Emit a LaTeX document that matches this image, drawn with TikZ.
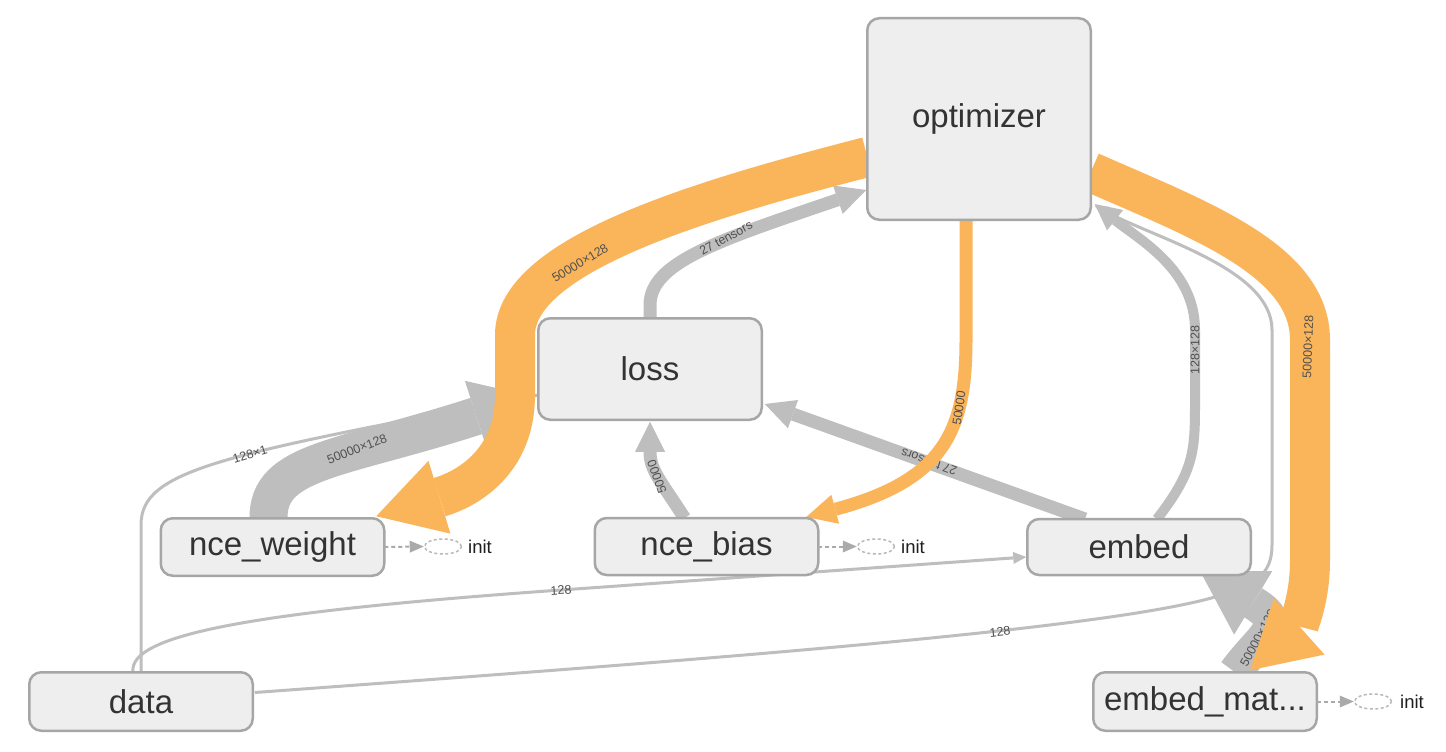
\documentclass[tikz,border=0pt]{standalone}
\usepackage{fontspec}
\setmainfont{Liberation Sans}
\usetikzlibrary{arrows.meta,calc,shapes.geometric}
\definecolor{nodefill}{RGB}{238,238,238}
\definecolor{nodeborder}{RGB}{166,166,166}
\definecolor{nodetext}{RGB}{51,51,51}
\definecolor{edgegray}{RGB}{190,190,190}
\definecolor{refor}{RGB}{250,181,90}
\definecolor{labeltext}{RGB}{80,80,80}
\definecolor{initgray}{RGB}{170,170,170}
\definecolor{initell}{RGB}{185,185,185}
\pgfdeclarelayer{edges}
\pgfsetlayers{edges,main}
\begin{document}
\begin{tikzpicture}[x=1pt,y=-1pt,
  box/.style={draw=nodeborder, fill=nodefill, line width=2.5pt, rounded corners=12pt,
    minimum width=223.5pt, inner sep=0pt, outer sep=0pt, text=nodetext,
    font=\fontsize{33}{40}\selectfont},
  thinline/.style={draw=edgegray, line width=3pt},
  thinarrow/.style={thinline, -{Triangle[length=13pt,width=12pt,line width=0pt]}},
  midedge/.style={draw=edgegray, line width=13pt, -{Triangle[length=30pt,width=30pt,line width=0pt]}},
  slimedge/.style={draw=edgegray, line width=10pt, -{Triangle[length=26pt,width=26pt,line width=0pt]}},
  thickedge/.style={draw=edgegray, line width=38pt, -{Triangle[length=62pt,width=74pt,line width=0pt]}},
  midor/.style={draw=refor, line width=13pt, -{Triangle[length=30pt,width=30pt,line width=0pt]}},
  thickor/.style={draw=refor, line width=40pt, -{Triangle[length=66pt,width=76pt,line width=0pt]}},
  elabel/.style={font=\fontsize{12.5}{14}\selectfont, text=labeltext, inner sep=0pt},
  initedge/.style={draw=initgray, line width=2pt, dash pattern=on 4pt off 3pt,
    -{Triangle[length=14pt,width=12pt,line width=0pt]}},
  initnode/.style={ellipse, draw=initell, dash pattern=on 3pt off 2.5pt, line width=1.5pt,
    minimum width=37pt, minimum height=15pt, inner sep=0pt, fill=white},
  inittext/.style={font=\fontsize{18.5}{22}\selectfont, anchor=west, inner sep=0pt, text=black!88}
]
\useasboundingbox (0,0) rectangle (1446,752);

% nodes
\node[box, minimum height=201.5pt] (optimizer) at (979,119) {optimizer};
\node[box, minimum height=101.5pt] (loss) at (650,369) {loss};
\node[box, minimum height=57.5pt] (ncew) at (272.5,547) {nce\_weight};
\node[box, minimum height=57pt] (nceb) at (706.5,546.5) {nce\_bias};
\node[box, minimum height=56pt] (embed) at (1139,547) {embed};
\node[box, minimum height=58.5pt] (data) at (141,701.5) {data};
\node[box, minimum height=58.5pt] (embmat) at (1205,701.5) {embed\_mat...};

\begin{pgfonlayer}{edges}
\fill[white] (0,0) rectangle (1446,752);
% thin edges
\draw[thinarrow] ($(data.north)+(-8,0)$) .. controls (128,635) and (250,612) .. (561,590) -- ($(embed.west)+(-1,10)$);
\node[elabel, rotate=4] (l128a) at (561,590) {128};
\draw[thinline] (data.north) -- (141,525) .. controls (141,470) and (220,455) .. ($(loss.west)+(0,26)$);
\node[elabel, rotate=17] (l128x1) at (250,454) {128×1};
\draw[thinarrow] ($(data.east)+(2,-9)$) .. controls (700,660) and (1100,630) .. (1215,597) .. controls (1255,585) and (1272,575) .. (1272,545) -- (1272,330) .. controls (1272,270) and (1160,240) .. ($(optimizer.east)+(4,87)$);
\node[elabel, rotate=6] (l128b) at (1000,632) {128};
% gray medium edges
\draw[midedge] (loss.north) -- (650,305) .. controls (650,262) and (720,240) .. ($(optimizer.west)+(-1,71)$);
\node[elabel, rotate=29] (l27a) at (726,238) {27 tensors};
\draw[midedge] ($(nceb.north)+(-22,0)$) .. controls (660,480) and (650,470) .. ($(loss.south)+(0,2)$);
\node[elabel, rotate=110] (l50k) at (657,477) {50000};
\draw[midedge] ($(embed.north)+(-54,0)$) -- ($(loss.east)+(3,35)$);
\node[elabel, rotate=160] (l27b) at (929,462) {27 tensors};
\draw[slimedge] ($(embed.north)+(18,0)$) .. controls (1195,470) and (1195,450) .. (1195,400) -- (1195,330) .. controls (1195,270) and (1140,240) .. ($(optimizer.east)+(4,85)$);
\node[elabel, rotate=90] (l128sq) at (1195,350) {128×128};
% gray thick edges
\draw[thickedge] ($(ncew.north)+(-4,0)$) .. controls (268,460) and (340,460) .. ($(loss.west)+(-3,28)$);
\node[elabel, rotate=21] (lw) at (357,449) {50000×128};
\draw[thickedge, line width=34pt] ($(embmat.north)+(30,0)$) .. controls (1262,635) and (1290,625) .. ($(embed.south)+(61,-4)$);
\node[elabel, rotate=62] (lem) at (1258,638) {50000×128};
% orange reference edges
\draw[thickor] ($(optimizer.west)+(0,38)$) .. controls (700,200) and (515,255) .. (515,335) -- (515,395) .. controls (515,460) and (470,488) .. ($(ncew.north east)+(-8,-2)$);
\node[elabel, rotate=31] (low) at (580,263) {50000×128};
\draw[midor] ($(optimizer.south)+(-13,0)$) -- (966,340) .. controls (966,430) and (945,480) .. ($(nceb.north east)+(-12,-1)$);
\node[elabel, rotate=82] (lob) at (959,408) {50000};
\draw[thickor] ($(optimizer.east)+(0,53)$) .. controls (1200,220) and (1310,260) .. (1310,340) -- (1310,560) .. controls (1310,605) and (1295,630) .. ($(embmat.north)+(45,-2)$);
\node[elabel, rotate=88] (loe) at (1308,347) {50000×128};
\end{pgfonlayer}

% init nodes
\node[initnode] (iw) at (443,546.5) {};
\draw[initedge] (ncew.east) -- (iw.west);
\node[inittext] (tw) at (468,546.5) {init};
\node[initnode] (ib) at (876,546.5) {};
\draw[initedge] (nceb.east) -- (ib.west);
\node[inittext] (tb) at (901,546.5) {init};
\node[initnode] (ie) at (1373,701.5) {};
\draw[initedge] (embmat.east) -- (ie.west);
\node[inittext] (te) at (1400,701.5) {init};
\end{tikzpicture}
\end{document}
